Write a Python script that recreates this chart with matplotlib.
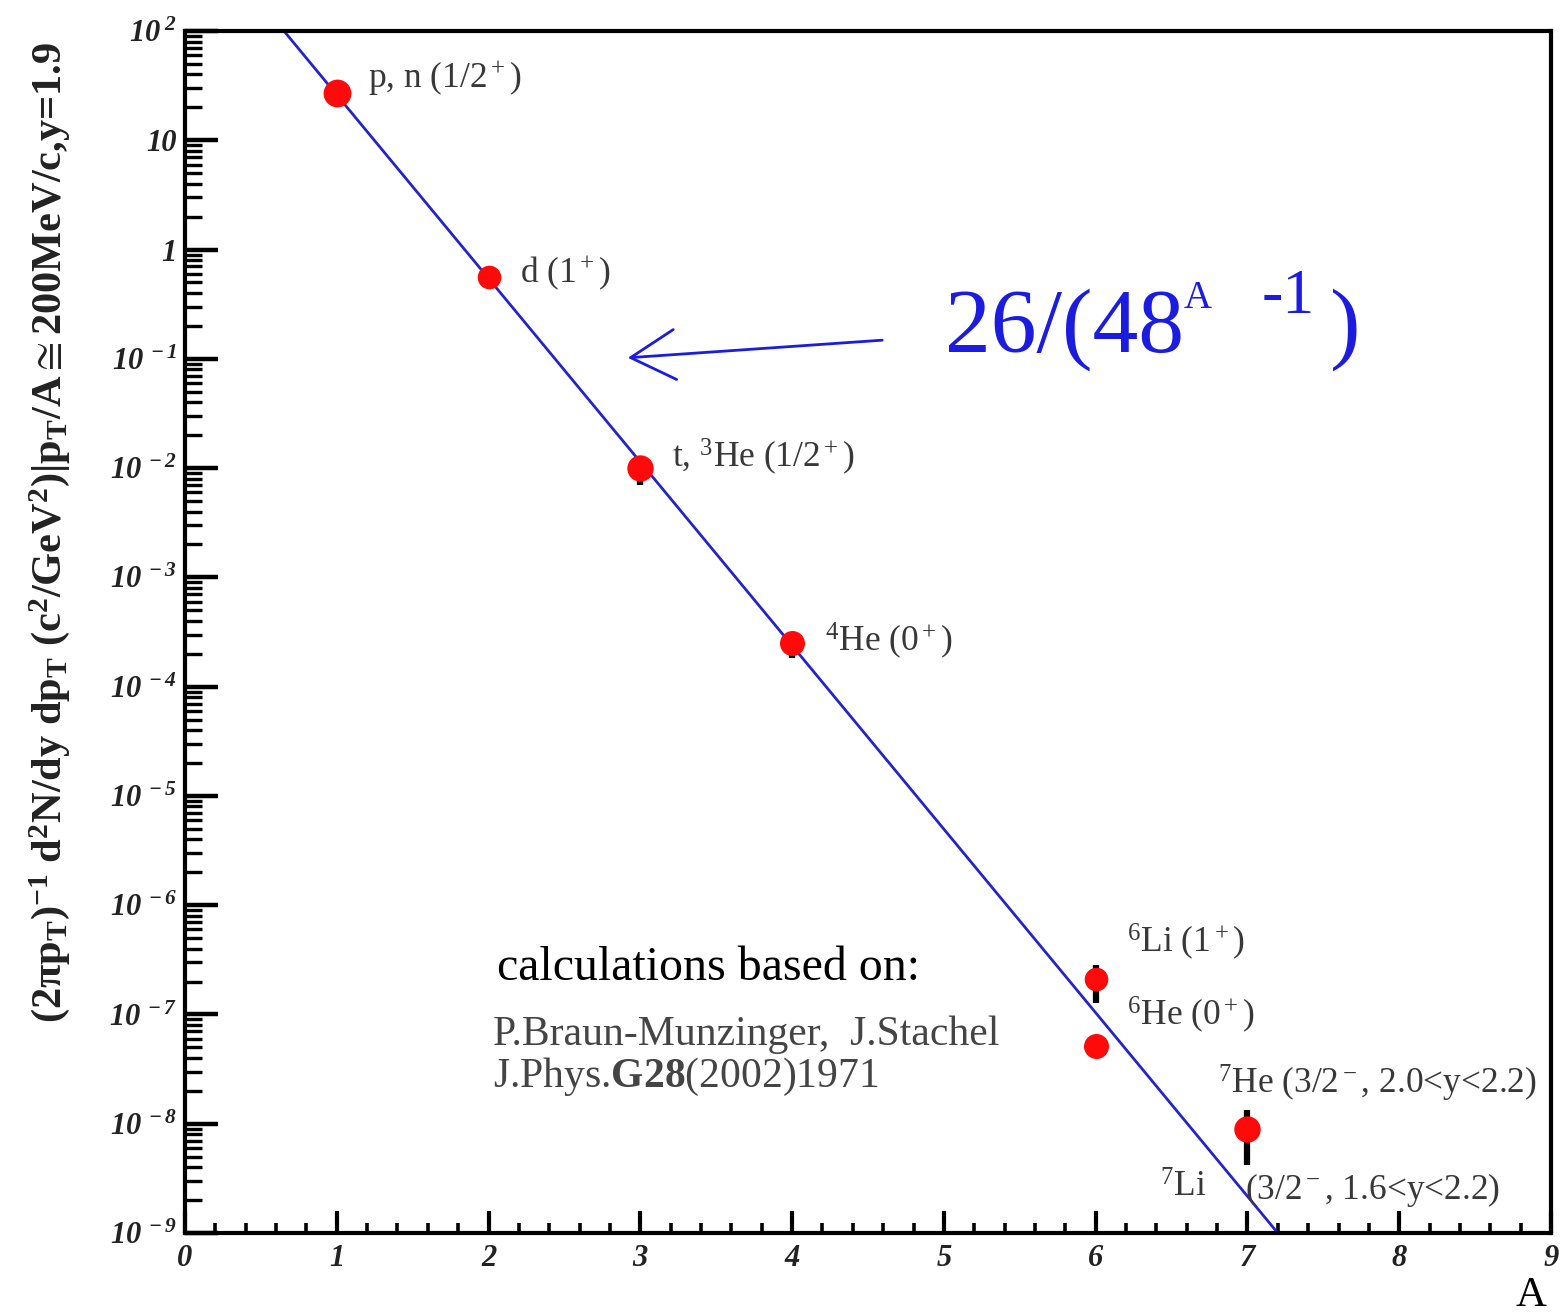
import matplotlib
matplotlib.use("Agg")
import matplotlib.pyplot as plt
from matplotlib.ticker import FixedLocator, LogLocator, NullFormatter, MultipleLocator

plt.rcParams['font.family'] = ['Liberation Serif', 'DejaVu Serif']
plt.rcParams['mathtext.fontset'] = 'custom'
plt.rcParams['mathtext.rm'] = 'Liberation Serif'
plt.rcParams['mathtext.it'] = 'Liberation Serif:italic'
plt.rcParams['mathtext.bf'] = 'Liberation Serif:bold'
plt.rcParams['mathtext.default'] = 'regular'

# ---- data ----
mass_A      = [1, 2, 3, 4, 6, 6, 7]
yield_val   = [27.0, 0.56, 1.0e-2, 2.5e-4, 2.1e-7, 5.1e-8, 8.9e-9]
err_low     = [27.0, 0.56, 7.0e-3, 1.83e-4, 1.28e-7, 5.1e-8, 4.2e-9]
err_high    = [27.0, 0.56, 1.0e-2, 2.5e-4, 2.85e-7, 5.1e-8, 1.34e-8]
marker_size = [20, 17, 19, 18, 17, 18, 19]

fit_A = [0.652, 7.2]
fit_y = [1.0e2, 1.0e-9]

ytick_vals = [1e-9, 1e-8, 1e-7, 1e-6, 1e-5, 1e-4, 1e-3, 1e-2, 1e-1, 1, 10, 1e2]
ytick_labels = [r'$10^{\;-9}$', r'$10^{\;-8}$', r'$10^{\;-7}$', r'$10^{\;-6}$',
                r'$10^{\;-5}$', r'$10^{\;-4}$', r'$10^{\;-3}$', r'$10^{\;-2}$',
                r'$10^{\;-1}$', '1', '10', r'$10^{\;2}$']
xtick_vals = [0, 1, 2, 3, 4, 5, 6, 7, 8, 9]
xtick_labels = ['0', '1', '2', '3', '4', '5', '6', '7', '8', '9']

W, H = 1562, 1316
fig = plt.figure(figsize=(W / 100, H / 100), dpi=100)
ax = fig.add_axes([185 / W, 1 - 1233 / H, (1551 - 185) / W, (1233 - 31) / H])

ax.set_yscale('log')
ax.set_xlim(0, 9)
ax.set_ylim(1e-9, 1e2)

# fit line
ax.plot(fit_A, fit_y, color='#2424c8', lw=2.0, zorder=2)

# error bars
for a, lo, hi in zip(mass_A, err_low, err_high):
    if hi > lo:
        ax.plot([a, a], [lo, hi], color='black', lw=4.5, zorder=3, solid_capstyle='butt')
# markers
for a, v, ms in zip(mass_A, yield_val, marker_size):
    ax.plot([a], [v], 'o', color='#ff0a0a', ms=ms, mec='none', zorder=4)

for s in ['left', 'bottom', 'top', 'right']:
    ax.spines[s].set_linewidth(3.0)
    ax.spines[s].set_color('black')

ax.yaxis.set_major_locator(FixedLocator(ytick_vals))
ax.yaxis.set_minor_locator(LogLocator(base=10, subs=range(2, 10), numticks=100))
ax.yaxis.set_minor_formatter(NullFormatter())
ax.set_yticklabels(ytick_labels)
ax.xaxis.set_major_locator(FixedLocator(xtick_vals))
ax.xaxis.set_minor_locator(MultipleLocator(0.2))
ax.set_xticklabels(xtick_labels)

ax.tick_params(axis='y', which='major', direction='in', length=24, width=3.2, left=True, right=False, pad=6)
ax.tick_params(axis='y', which='minor', direction='in', length=12, width=2.4, left=True, right=False)
ax.tick_params(axis='x', which='major', direction='in', length=16, width=3, top=False, pad=8)
ax.tick_params(axis='x', which='minor', direction='in', length=7, width=2.6, top=False)
for lab in ax.get_yticklabels() + ax.get_xticklabels():
    lab.set_fontsize(22)
    lab.set_fontweight('bold')
    lab.set_fontstyle('italic')
    lab.set_color('#222222')

def ftext(px, py, s, **kw):
    fig.text(px / W, 1 - py / H, s, **kw)

# y-axis label
ftext(50, 533, r'$(2\pi p_T)^{-1}$ d$^2$N/dy dp$_T$ (c$^2$/GeV$^2$)|p$_T$/A$\cong$200MeV/c,y=1.9',
      rotation=90, ha='center', va='center', fontsize=30.5, fontweight='bold', color='#222222')
# x-axis label
ftext(1531, 1296, 'A', ha='center', va='center', fontsize=31, color='black')

grey = '#383838'
lab_fs = 25.5
ftext(368, 78, r'p, n (1/2$^+$)', ha='left', va='center', fontsize=lab_fs, color=grey)
ftext(520, 273, r'd (1$^+$)', ha='left', va='center', fontsize=lab_fs, color=grey)
ftext(672, 457, r't, $^3$He (1/2$^+$)', ha='left', va='center', fontsize=lab_fs, color=grey)
ftext(825, 641, r'$^4$He (0$^+$)', ha='left', va='center', fontsize=lab_fs, color=grey)
ftext(1127, 942, r'$^6$Li (1$^+$)', ha='left', va='center', fontsize=lab_fs, color=grey)
ftext(1127, 1015, r'$^6$He (0$^+$)', ha='left', va='center', fontsize=lab_fs, color=grey)
ftext(1218, 1083, r'$^7$He (3/2$^-$, 2.0<y<2.2)', ha='left', va='center', fontsize=lab_fs, color=grey)
ftext(1160, 1188, r'$^7$Li', ha='left', va='center', fontsize=lab_fs, color=grey)
ftext(1245, 1190, r'(3/2$^-$, 1.6<y<2.2)', ha='left', va='center', fontsize=lab_fs, color=grey)

# fit formula and arrow
blue = '#1c1ce0'
ftext(945, 330, '26/(48', ha='left', va='center', fontsize=66, color=blue)
ftext(1184, 298, 'A', ha='left', va='center', fontsize=28, color=blue)
ftext(1262, 298, '-1', ha='left', va='center', fontsize=46, color=blue)
ftext(1330, 330, ')', ha='left', va='center', fontsize=66, color=blue)
fig.add_artist(matplotlib.patches.FancyArrowPatch(
    (885 / W, 1 - 340 / H), (625 / W, 1 - 358 / H), transform=fig.transFigure,
    arrowstyle='->,head_length=1.6,head_width=0.9', mutation_scale=20,
    color=blue, lw=2.0))

# reference text
ftext(497, 968, 'calculations based on:', ha='left', va='center', fontsize=34.5, color='black')
ftext(493, 1035, 'P.Braun-Munzinger,  J.Stachel', ha='left', va='center', fontsize=30, color='#444444')
ftext(493, 1077, r'J.Phys.$\mathbf{G28}$(2002)1971', ha='left', va='center', fontsize=30, color='#444444')

fig.savefig('out.png', dpi=100, facecolor='white')
